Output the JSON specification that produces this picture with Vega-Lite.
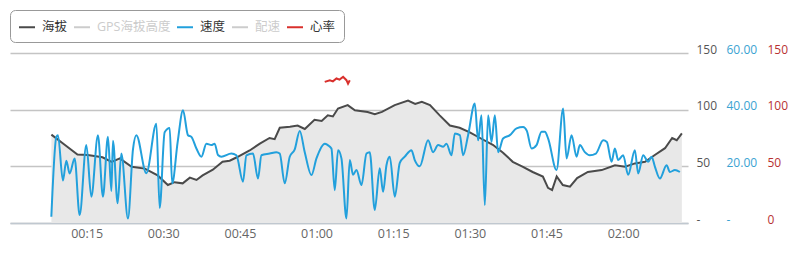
{
  "$schema": "https://vega.github.io/schema/vega-lite/v6.json",
  "width": 678,
  "height": 170,
  "autosize": {"type": "none"},
  "padding": {"left": 10, "top": 53, "right": 112, "bottom": 40},
  "background": "white",
  "config": {
    "view": {"stroke": null},
    "axis": {"labelFont": "Open Sans", "title": null, "domain": false, "ticks": false},
    "legend": {"labelFont": "Open Sans, Noto Sans CJK SC"}
  },
  "datasets": {
    "elev": [
      {"t": 8.1, "v": 78}, {"t": 10.7, "v": 69}, {"t": 13.2, "v": 60.5}, {"t": 15.2, "v": 60}, {"t": 18.1, "v": 58},
      {"t": 19.9, "v": 54}, {"t": 21.5, "v": 57}, {"t": 23.8, "v": 49.6}, {"t": 26.4, "v": 48}, {"t": 28.9, "v": 42},
      {"t": 30.9, "v": 33.5}, {"t": 32.2, "v": 36}, {"t": 33.8, "v": 35}, {"t": 35.2, "v": 40}, {"t": 36.5, "v": 38},
      {"t": 37.7, "v": 42}, {"t": 39.7, "v": 47}, {"t": 41.6, "v": 54}, {"t": 43.0, "v": 55}, {"t": 44.4, "v": 58},
      {"t": 46.9, "v": 64}, {"t": 48.9, "v": 70}, {"t": 50.8, "v": 75}, {"t": 51.8, "v": 74}, {"t": 52.8, "v": 84},
      {"t": 54.8, "v": 85}, {"t": 56.3, "v": 86}, {"t": 57.7, "v": 83}, {"t": 59.6, "v": 91}, {"t": 61.0, "v": 90},
      {"t": 62.2, "v": 95}, {"t": 63.2, "v": 94}, {"t": 64.2, "v": 101}, {"t": 66.1, "v": 104}, {"t": 67.5, "v": 99.5},
      {"t": 70.0, "v": 98}, {"t": 71.4, "v": 96}, {"t": 72.8, "v": 98}, {"t": 75.3, "v": 104}, {"t": 77.9, "v": 108},
      {"t": 79.3, "v": 105}, {"t": 80.6, "v": 107}, {"t": 82.2, "v": 104}, {"t": 84.1, "v": 95}, {"t": 86.1, "v": 86},
      {"t": 88.0, "v": 84}, {"t": 90.0, "v": 80}, {"t": 92.0, "v": 75}, {"t": 94.5, "v": 69}, {"t": 96.5, "v": 62},
      {"t": 98.4, "v": 54}, {"t": 100.4, "v": 49.6}, {"t": 102.3, "v": 45}, {"t": 104.3, "v": 41}, {"t": 105.3, "v": 31},
      {"t": 106.1, "v": 29}, {"t": 107.0, "v": 41}, {"t": 108.2, "v": 33.5}, {"t": 109.6, "v": 32}, {"t": 111.0, "v": 39.6},
      {"t": 113.1, "v": 45}, {"t": 115.8, "v": 46.7}, {"t": 118.4, "v": 51}, {"t": 120.4, "v": 49.6}, {"t": 122.3, "v": 52.6},
      {"t": 124.3, "v": 54}, {"t": 126.2, "v": 60}, {"t": 128.2, "v": 66}, {"t": 129.6, "v": 75}, {"t": 130.5, "v": 73},
      {"t": 131.5, "v": 79}
    ],
    "speed": [
      {"t": 8.09, "v": 2.2}, {"t": 9.07, "v": 30.4}, {"t": 9.38, "v": 31}, {"t": 10.36, "v": 15}, {"t": 11.02, "v": 22},
      {"t": 11.67, "v": 17.5}, {"t": 12.65, "v": 22.8}, {"t": 13.63, "v": 2.8}, {"t": 14.94, "v": 27.5}, {"t": 15.92, "v": 9.3},
      {"t": 17.21, "v": 31}, {"t": 18.19, "v": 9.3}, {"t": 19.17, "v": 30.4}, {"t": 19.84, "v": 11.3}, {"t": 20.15, "v": 29},
      {"t": 21.07, "v": 7}, {"t": 21.79, "v": 24.5}, {"t": 23.09, "v": 1.6}, {"t": 24.07, "v": 26}, {"t": 24.73, "v": 31},
      {"t": 26.69, "v": 17.6}, {"t": 28.65, "v": 35}, {"t": 29.29, "v": 5.3}, {"t": 30.27, "v": 32}, {"t": 31.25, "v": 33.5},
      {"t": 31.74, "v": 14}, {"t": 32.82, "v": 28.6}, {"t": 33.86, "v": 39.8}, {"t": 34.83, "v": 31}, {"t": 35.5, "v": 30.4},
      {"t": 36.48, "v": 26.3}, {"t": 37.46, "v": 23.4}, {"t": 38.44, "v": 28}, {"t": 39.42, "v": 27.5}, {"t": 40.06, "v": 28},
      {"t": 40.71, "v": 24}, {"t": 41.37, "v": 23.4}, {"t": 43.33, "v": 24.5}, {"t": 44.31, "v": 23.9}, {"t": 45.6, "v": 14.6},
      {"t": 46.27, "v": 23.9}, {"t": 47.56, "v": 24.5}, {"t": 48.54, "v": 15.7}, {"t": 49.21, "v": 23.9}, {"t": 50.83, "v": 24.5},
      {"t": 52.14, "v": 25}, {"t": 52.79, "v": 24.5}, {"t": 53.77, "v": 14}, {"t": 54.75, "v": 23.4}, {"t": 55.73, "v": 26},
      {"t": 56.71, "v": 32.5}, {"t": 57.69, "v": 25}, {"t": 59.0, "v": 16.9}, {"t": 59.98, "v": 22.8}, {"t": 61.6, "v": 28},
      {"t": 62.19, "v": 27.5}, {"t": 62.91, "v": 26.3}, {"t": 63.56, "v": 11.6}, {"t": 64.21, "v": 25.7}, {"t": 64.87, "v": 22.8},
      {"t": 65.85, "v": 1.6}, {"t": 66.5, "v": 22.2}, {"t": 67.14, "v": 17}, {"t": 67.81, "v": 18.7}, {"t": 68.79, "v": 13.4},
      {"t": 69.77, "v": 24.5}, {"t": 70.41, "v": 25}, {"t": 71.39, "v": 4.6}, {"t": 72.37, "v": 19.3}, {"t": 73.02, "v": 11},
      {"t": 73.68, "v": 20.4}, {"t": 74.33, "v": 23.4}, {"t": 75.31, "v": 9.3}, {"t": 76.29, "v": 21.2}, {"t": 77.27, "v": 23.4},
      {"t": 78.58, "v": 25.7}, {"t": 79.22, "v": 22.2}, {"t": 80.2, "v": 20}, {"t": 81.83, "v": 29.2}, {"t": 82.81, "v": 25},
      {"t": 83.79, "v": 27.5}, {"t": 84.77, "v": 26.9}, {"t": 85.43, "v": 28}, {"t": 86.41, "v": 23.9}, {"t": 87.06, "v": 31.6},
      {"t": 88.04, "v": 31}, {"t": 88.68, "v": 23.9}, {"t": 89.66, "v": 31}, {"t": 90.97, "v": 42.2}, {"t": 91.62, "v": 29.2},
      {"t": 92.28, "v": 38}, {"t": 92.93, "v": 6.3}, {"t": 93.58, "v": 38}, {"t": 94.24, "v": 28.6}, {"t": 94.89, "v": 38},
      {"t": 95.54, "v": 25}, {"t": 96.51, "v": 29.8}, {"t": 97.83, "v": 31}, {"t": 99.14, "v": 33.4}, {"t": 100.43, "v": 33.9},
      {"t": 101.16, "v": 32.5}, {"t": 102.08, "v": 26.3}, {"t": 103.05, "v": 27.5}, {"t": 104.03, "v": 32.2}, {"t": 104.68, "v": 32.2},
      {"t": 105.33, "v": 29.8}, {"t": 106.97, "v": 18.7}, {"t": 108.26, "v": 40.4}, {"t": 108.93, "v": 22.8}, {"t": 109.91, "v": 31},
      {"t": 110.89, "v": 23.4}, {"t": 111.53, "v": 27.5}, {"t": 112.51, "v": 25}, {"t": 113.49, "v": 23.9}, {"t": 114.67, "v": 24.5},
      {"t": 116.1, "v": 29.2}, {"t": 116.82, "v": 28.6}, {"t": 117.74, "v": 21.6}, {"t": 118.39, "v": 26.3}, {"t": 119.03, "v": 22.2},
      {"t": 120.01, "v": 23.9}, {"t": 120.99, "v": 17}, {"t": 122.3, "v": 25.7}, {"t": 122.95, "v": 17.5}, {"t": 123.93, "v": 23.9},
      {"t": 124.91, "v": 21.6}, {"t": 125.57, "v": 23.4}, {"t": 126.22, "v": 19.9}, {"t": 127.2, "v": 15.7}, {"t": 128.51, "v": 20.4},
      {"t": 129.16, "v": 18}, {"t": 130.14, "v": 18.7}, {"t": 131.11, "v": 18}
    ],
    "hr": [
      {"t": 61.6, "v": 124.5}, {"t": 62.6, "v": 126}, {"t": 63.2, "v": 125}, {"t": 63.9, "v": 127.5}, {"t": 64.5, "v": 126.5},
      {"t": 65.2, "v": 129}, {"t": 65.85, "v": 126}, {"t": 66.16, "v": 123}, {"t": 66.5, "v": 126}
    ]
  },
  "encoding": {
    "x": {
      "field": "t", "type": "quantitative",
      "scale": {"domain": [0, 132.7], "nice": false, "zero": false},
      "axis": {
        "values": [15, 30, 45, 60, 75, 90, 105, 120],
        "labelExpr": "'0' + floor(datum.value / 60) + ':' + (datum.value % 60 < 10 ? '0' : '') + (datum.value % 60)",
        "domain": true, "domainColor": "#c0c8d0", "domainWidth": 1.5,
        "grid": false, "labelColor": "#666666", "labelFontSize": 12.5, "labelPadding": 4,
        "labelFont": "Open Sans"
      }
    }
  },
  "layer": [
    {
      "data": {"name": "elev"},
      "encoding": {
        "y": {
          "field": "v", "type": "quantitative",
          "scale": {"domain": [0, 150], "nice": false},
          "axis": {
            "orient": "right", "values": [0, 50, 100, 150],
            "labelExpr": "datum.value == 0 ? '-' : datum.label",
            "grid": true, "gridColor": "#c4c4c4", "gridWidth": 1.5,
            "labelAlign": "left", "labelBaseline": "alphabetic", "labelPadding": 8,
            "labelColor": "#555555", "labelFontSize": 12
          }
        }
      },
      "layer": [
        {"mark": {"type": "area", "fill": "#e8e8e8", "opacity": 1}},
        {
          "mark": {"type": "line", "strokeWidth": 2},
          "encoding": {
            "color": {
              "datum": "海拔",
              "scale": {
                "domain": ["海拔", "GPS海拔高度", "速度", "配速", "心率"],
                "range": ["#4a4a4a", "#cccccc", "#22a0dc", "#cccccc", "#d9302c"]
              },
              "legend": {
                "orient": "none", "legendX": 0, "legendY": -43, "direction": "horizontal",
                "title": null, "symbolType": "stroke", "symbolSize": 256, "symbolStrokeWidth": 2,
                "labelFontSize": 12.5, "labelOffset": 6, "columnPadding": 2,
                "labelColor": {"expr": "datum.label == 'GPS海拔高度' || datum.label == '配速' ? '#cccccc' : '#333333'"},
                "padding": 8, "strokeColor": "#999999", "cornerRadius": 5, "fillColor": "white"
              }
            }
          }
        }
      ]
    },
    {
      "data": {"name": "speed"},
      "mark": {"type": "line", "strokeWidth": 2, "interpolate": "monotone"},
      "encoding": {
        "y": {
          "field": "v", "type": "quantitative",
          "scale": {"domain": [0, 60], "nice": false},
          "axis": {
            "orient": "right", "values": [0, 20, 40, 60],
            "labelExpr": "datum.value == 0 ? '-' : format(datum.value, '.2f')",
            "grid": false, "labelAlign": "left", "labelBaseline": "alphabetic", "labelPadding": 38,
            "labelColor": "#3aa3d2", "labelFontSize": 12
          }
        },
        "color": {"datum": "速度"}
      }
    },
    {
      "data": {"name": "hr"},
      "mark": {"type": "line", "strokeWidth": 2},
      "encoding": {
        "y": {
          "field": "v", "type": "quantitative",
          "scale": {"domain": [0, 150], "nice": false},
          "axis": {
            "orient": "right", "values": [0, 50, 100, 150],
            "grid": false, "labelAlign": "left", "labelBaseline": "alphabetic", "labelPadding": 79,
            "labelColor": "#b83232", "labelFontSize": 12
          }
        },
        "color": {"datum": "心率"}
      }
    }
  ],
  "resolve": {"scale": {"y": "independent"}}
}
